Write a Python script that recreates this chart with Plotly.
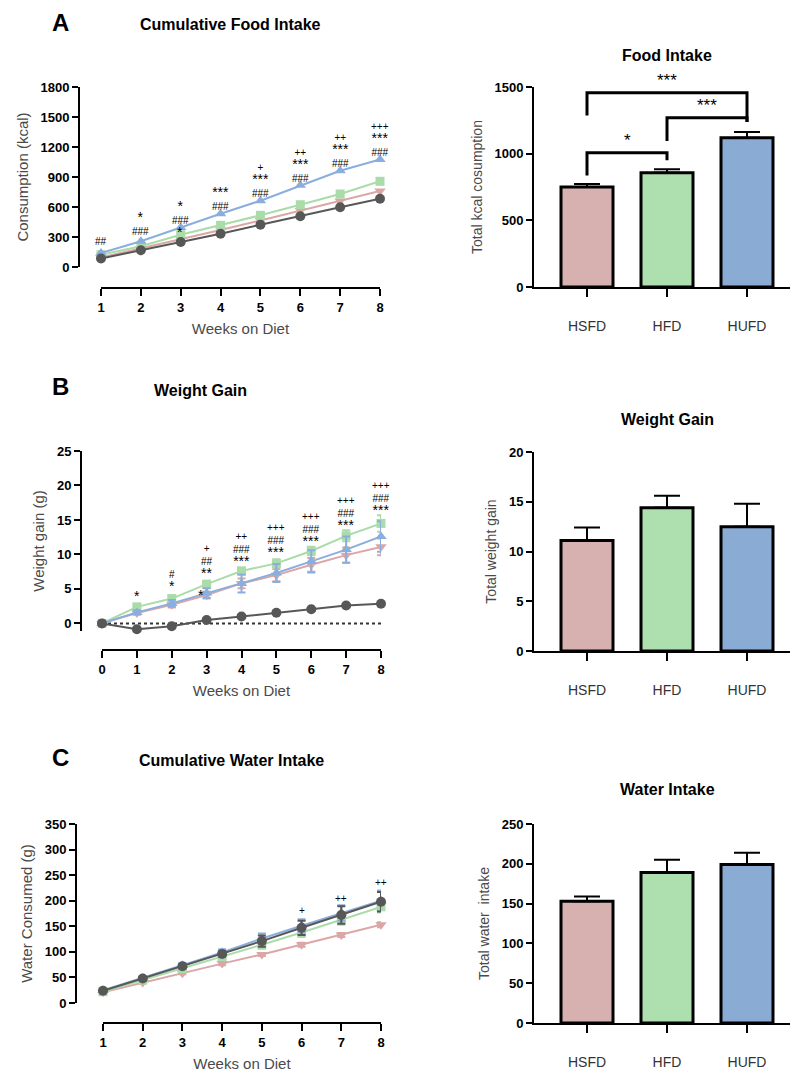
import plotly.graph_objects as go

W, H = 793, 1074
def px(x): return x / W
def py(y): return 1 - y / H

# ---------------- data ----------------
weeks_A = [1, 2, 3, 4, 5, 6, 7, 8]
food_chow = [85, 167, 250, 333, 423, 507, 597, 683]
food_hsfd = [95, 185, 280, 370, 465, 565, 660, 760]
food_hfd = [123, 207, 323, 417, 517, 623, 730, 857]
food_hufd = [140, 257, 395, 533, 663, 817, 963, 1075]

weeks_B = [0, 1, 2, 3, 4, 5, 6, 7, 8]
gain_chow = [0, -0.85, -0.4, 0.5, 1.0, 1.55, 2.05, 2.6, 2.85]
gain_hsfd = [0, 1.5, 2.7, 4.1, 5.8, 7.0, 8.5, 9.9, 11.1]
gain_hfd = [0, 2.4, 3.6, 5.7, 7.6, 8.7, 10.5, 12.7, 14.5]
gain_hufd = [0, 1.6, 2.9, 4.4, 5.8, 7.3, 9.0, 10.7, 12.6]
gain_chow_err = [0, 0.2, 0.2, 0.2, 0.2, 0.2, 0.2, 0.2, 0.2]
gain_hsfd_err = [0, 0.2, 0.4, 0.5, 0.7, 0.9, 1.0, 1.1, 1.2]
gain_hfd_err = [0, 0.3, 0.4, 0.4, 0.5, 0.6, 0.6, 0.8, 1.2]
gain_hufd_err = [0, 0.3, 0.5, 0.7, 1.3, 1.3, 1.6, 1.9, 2.2]

weeks_C = [1, 2, 3, 4, 5, 6, 7, 8]
water_chow = [24, 48, 72, 96, 121, 147, 172, 198]
water_hsfd = [21, 40, 58, 77, 95, 114, 133, 153]
water_hfd = [22, 45, 67, 91, 114, 138, 163, 188]
water_hufd = [25, 49, 74, 99, 126, 151, 176, 200]
water_chow_err = [2, 3, 4, 5, 11, 14, 17, 19]
water_hsfd_err = [1, 2, 2, 3, 3, 4, 4, 5]
water_hfd_err = [2, 3, 4, 5, 8, 9, 10, 11]
water_hufd_err = [2, 3, 4, 6, 10, 13, 15, 20]

groups = ["HSFD", "HFD", "HUFD"]
total_kcal = [750, 857, 1120]
total_kcal_sem = [22, 27, 42]
total_gain = [11.1, 14.4, 12.5]
total_gain_sem = [1.3, 1.2, 2.3]
total_water = [153, 189, 199]
total_water_sem = [6, 16, 15]

# significance stacks (week, level of stack centre, rows top->bottom)
sig_A = [(1, 257, ["##"]), (2, 438, ["*", "###"]), (3, 555, ["*", "###"]), (2.97, 373, ["*"]),
         (4, 688, ["***", "###"]), (5, 866, ["+", "***", "###"]), (6, 1014, ["++", "***", "###"]),
         (7, 1167, ["++", "***", "###"]), (8, 1276, ["+++", "***", "###"])]
sig_B = [(1, 4.3, ["*"]), (2, 6.3, ["#", "*"]), (3, 9.2, ["+", "##", "**"]), (2.85, 4.35, ["*"]),
         (4, 10.9, ["++", "###", "***"]), (5, 12.3, ["+++", "###", "***"]),
         (6, 13.9, ["+++", "###", "***"]), (7, 16.2, ["+++", "###", "***"]),
         (8, 18.4, ["+++", "###", "***"])]
sig_C = [(6, 181, ["+"]), (7, 204, ["++"]), (8, 235, ["++"])]

# bracket comparisons for food intake: (left group, right group, bar level, left foot, right foot, label)
brackets_A = [(0, 2, 1457, 1287, 1237, "***"), (1, 2, 1270, 1095, 1237, "***"),
              (0, 1, 1007, 837, 950, "*")]

# ---------------- style ----------------
FONT = "Arial, Liberation Sans, sans-serif"
C_CHOW = "#575757"
C_HSFD = "#dba6a6"
C_HFD = "#a9dca9"
C_HUFD = "#8aaedd"
BAR_COLORS = ["#d7b0b0", "#aedfae", "#8aabd3"]

fig = go.Figure()

def line_trace(x, y, err, color, symbol, xa, ya, size=10):
    e = None
    if err is not None:
        e = dict(type="data", array=err, visible=True, color=color, thickness=2, width=4)
    fig.add_trace(go.Scatter(
        x=x, y=y, error_y=e, mode="lines+markers", xaxis=xa, yaxis=ya,
        line=dict(color=color, width=2),
        marker=dict(color=color, symbol=symbol, size=size),
        cliponaxis=False, showlegend=False, hoverinfo="skip"))

line_trace(weeks_A, food_hsfd, None, C_HSFD, "triangle-down", "x", "y")
line_trace(weeks_A, food_hfd, None, C_HFD, "square", "x", "y", 9)
line_trace(weeks_A, food_hufd, None, C_HUFD, "triangle-up", "x", "y")
line_trace(weeks_A, food_chow, None, C_CHOW, "circle", "x", "y")

line_trace(weeks_B, gain_hsfd, gain_hsfd_err, C_HSFD, "triangle-down", "x3", "y3")
line_trace(weeks_B, gain_hfd, gain_hfd_err, C_HFD, "square", "x3", "y3", 9)
line_trace(weeks_B, gain_hufd, gain_hufd_err, C_HUFD, "triangle-up", "x3", "y3")
line_trace(weeks_B, gain_chow, gain_chow_err, C_CHOW, "circle", "x3", "y3")

line_trace(weeks_C, water_hsfd, water_hsfd_err, C_HSFD, "triangle-down", "x5", "y5")
line_trace(weeks_C, water_hfd, water_hfd_err, C_HFD, "square", "x5", "y5", 9)
line_trace(weeks_C, water_hufd, water_hufd_err, C_HUFD, "triangle-up", "x5", "y5")
line_trace(weeks_C, water_chow, water_chow_err, C_CHOW, "circle", "x5", "y5")

def bar_trace(vals, sem, xa, ya):
    fig.add_trace(go.Bar(
        x=list(range(len(groups))), y=vals, xaxis=xa, yaxis=ya, width=0.65,
        marker=dict(color=BAR_COLORS, line=dict(color="black", width=3)),
        error_y=dict(type="data", array=sem, arrayminus=[0] * len(sem), symmetric=False,
                     color="black", thickness=2, width=13),
        cliponaxis=False, showlegend=False, hoverinfo="skip"))

bar_trace(total_kcal, total_kcal_sem, "x2", "y2")
bar_trace(total_gain, total_gain_sem, "x4", "y4")
bar_trace(total_water, total_water_sem, "x6", "y6")

# ---------------- axes ----------------
tickfont = dict(family=FONT, size=13, color="black", weight="bold")
titlefont = dict(family=FONT, size=15, color="#4a4a4a")

def left_axes(n, xdom, ydom, xrange, yrange, xpos, ypos, ytickvals, ytitle, xtickvals, standoff):
    xs = "xaxis" if n == 1 else f"xaxis{n}"
    ys = "yaxis" if n == 1 else f"yaxis{n}"
    fig.update_layout(**{
        xs: dict(domain=[px(xdom[0]), px(xdom[1])], range=xrange, anchor="free",
                 position=py(ypos), showline=True, linecolor="black", linewidth=2,
                 ticks="outside", ticklen=7, tickwidth=2, tickcolor="black",
                 tickvals=xtickvals, tickfont=tickfont,
                 showgrid=False, zeroline=False, automargin=False,
                 title=dict(text="Weeks on Diet", font=titlefont, standoff=9)),
        ys: dict(domain=[py(ydom[1]), py(ydom[0])], range=yrange, anchor="free",
                 position=px(xpos), showline=True, linecolor="black", linewidth=2,
                 ticks="outside", ticklen=6, tickwidth=2, tickcolor="black",
                 tickvals=ytickvals, tickfont=tickfont, showgrid=False, zeroline=False,
                 automargin=False,
                 title=dict(text=ytitle, font=titlefont, standoff=standoff)),
    })

left_axes(1, (101, 380), (87, 267), [1, 8], [0, 1800], 79, 288,
          [0, 300, 600, 900, 1200, 1500, 1800], "Consumption (kcal)", weeks_A, 7)
left_axes(3, (102, 381), (451, 631), [0, 8], [-1.1, 25], 81, 650,
          [0, 5, 10, 15, 20, 25], "Weight gain (g)", weeks_B, 8)
left_axes(5, (103, 381), (824, 1003), [1, 8], [0, 350], 76, 1023,
          [0, 50, 100, 150, 200, 250, 300, 350], "Water Consumed (g)", weeks_C, 7)

def right_axes(n, ydom, yrange, ytickvals, ytitle):
    fig.update_layout(**{
        f"xaxis{n}": dict(domain=[px(534), px(790)], range=[-0.6625, 2.5375], anchor=f"y{n}",
                          showline=True, linecolor="black", linewidth=2,
                          ticks="outside", ticklen=8, tickwidth=2, tickcolor="black",
                          tickvals=[0, 1, 2], ticktext=groups, ticklabelstandoff=17,
                          tickfont=dict(family=FONT, size=14, color="#333333"),
                          showgrid=False, zeroline=False, automargin=False),
        f"yaxis{n}": dict(domain=[py(ydom[1]), py(ydom[0])], range=yrange, anchor=f"x{n}",
                          showline=True, linecolor="black", linewidth=2,
                          ticks="outside", ticklen=6, tickwidth=2, tickcolor="black",
                          tickvals=ytickvals, tickfont=tickfont, showgrid=False, zeroline=False,
                          automargin=False,
                          title=dict(text=ytitle, font=dict(family=FONT, size=14, color="#4a4a4a"),
                                     standoff=9)),
    })

right_axes(2, (87, 287), [0, 1500], [0, 500, 1000, 1500], "Total kcal cosumption")
right_axes(4, (452, 651), [0, 20], [0, 5, 10, 15, 20], "Total weight gain")
right_axes(6, (824, 1023), [0, 250], [0, 50, 100, 150, 200, 250], "Total water  intake")

# ---------------- annotations ----------------
ann = []
def fmt_row(t):
    if t.startswith("*"):
        return f'<span style="font-size:14px">{t}</span>'
    return t

def sig(lst, xa, ya):
    for x, y, rows in lst:
        ann.append(dict(x=x, y=y, xref=xa, yref=ya, text="<br>".join(fmt_row(r) for r in rows),
                        showarrow=False, yanchor="middle", align="center",
                        yshift=-2 if rows[-1].startswith("*") else 0,
                        font=dict(family=FONT, size=10, color="black")))
sig(sig_A, "x", "y")
sig(sig_B, "x3", "y3")
sig(sig_C, "x5", "y5")

shapes = []
for g0, g1, lvl, f0, f1, lab in brackets_A:
    shapes.append(dict(type="path", xref="x2", yref="y2",
                       path=f"M {g0},{f0} L {g0},{lvl} L {g1},{lvl} L {g1},{f1}",
                       line=dict(color="black", width=3)))
    ann.append(dict(x=(g0 + g1) / 2, y=lvl, xref="x2", yref="y2", text=lab, showarrow=False,
                    yanchor="bottom", yshift=1, font=dict(family=FONT, size=17, color="black")))

shapes.append(dict(type="line", xref="x3", yref="y3", x0=0, x1=8, y0=0, y1=0, layer="below",
                   line=dict(color="#333333", width=2, dash="dot")))

def title(x, y, text, size=16):
    ann.append(dict(x=px(x), y=py(y), xref="paper", yref="paper", text=f"<b>{text}</b>",
                    showarrow=False, xanchor="center", yanchor="middle",
                    font=dict(family=FONT, size=size, color="black")))

title(60, 22, "A", 24)
title(230, 25, "Cumulative Food Intake")
title(667, 56, "Food Intake")
title(60, 386, "B", 24)
title(200, 390, "Weight Gain")
title(667, 420, "Weight Gain")
title(60, 757, "C", 24)
title(231, 760, "Cumulative Water Intake")
title(667, 790, "Water Intake")

fig.update_layout(width=W, height=H, margin=dict(l=0, r=0, t=0, b=0, autoexpand=False),
                  paper_bgcolor="white", plot_bgcolor="white", template="none",
                  annotations=ann, shapes=shapes, showlegend=False,
                  font=dict(family=FONT))

fig.write_html("out.html", config={"displayModeBar": False},
               post_script="document.body.style.margin='0';document.body.style.padding='0';"
                           "document.body.style.overflow='hidden';")
